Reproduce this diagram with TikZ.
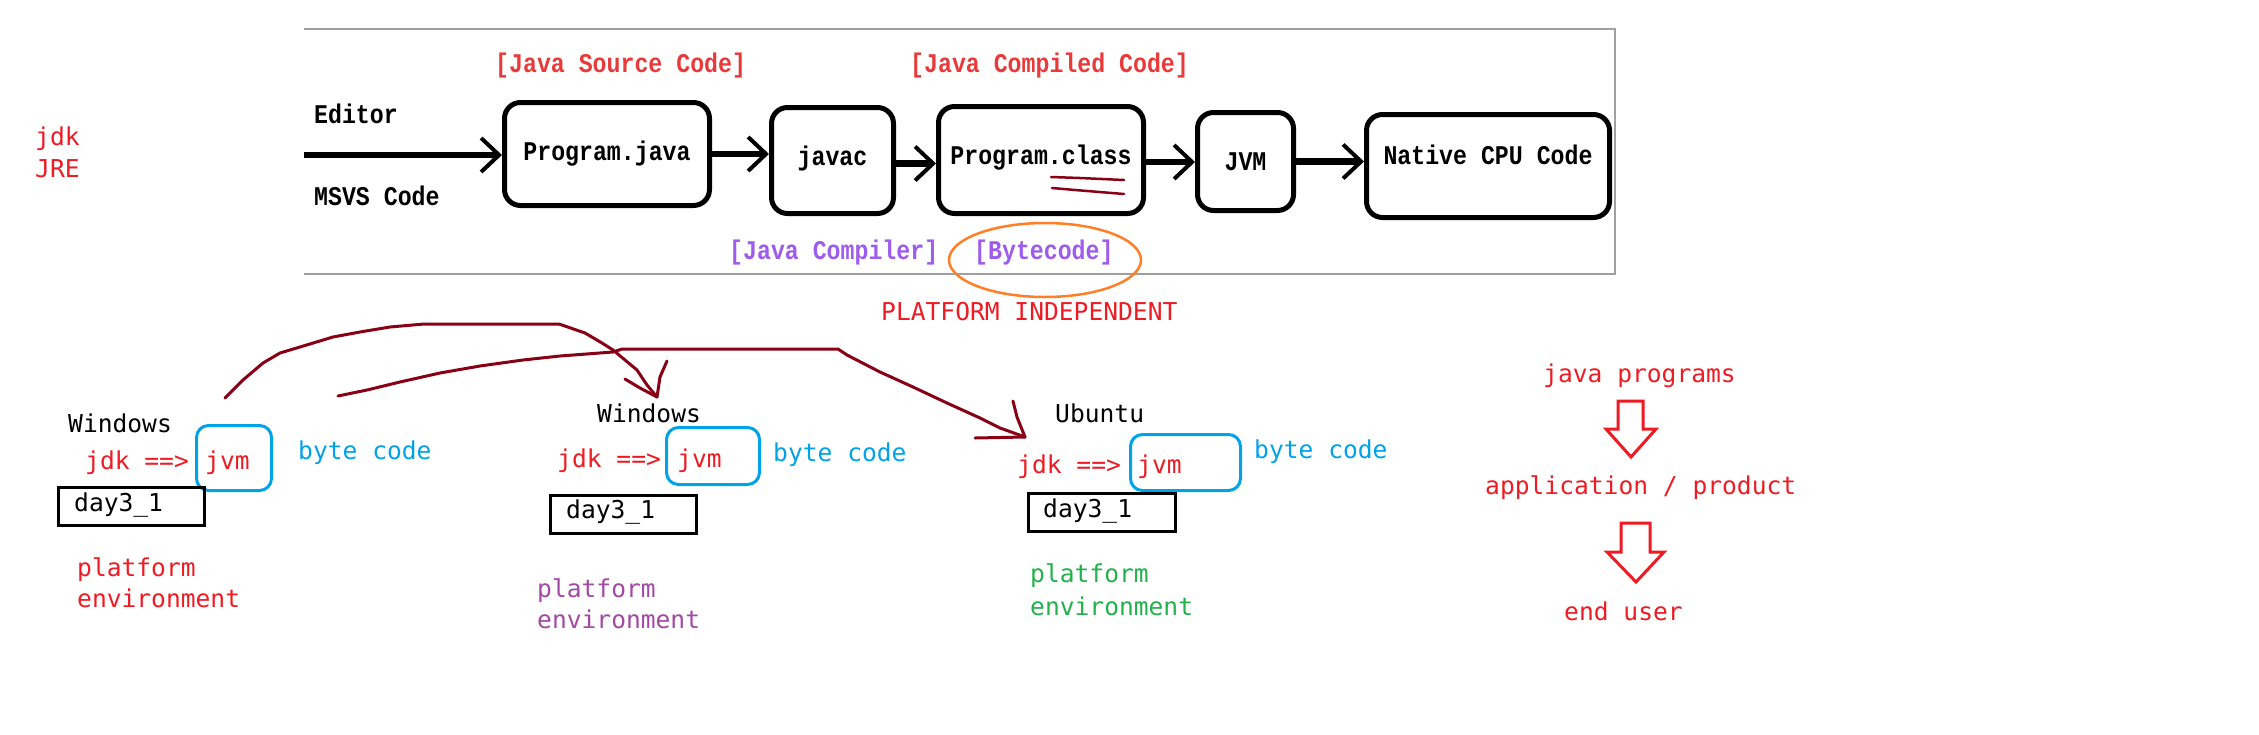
\documentclass[tikz,border=0pt]{standalone}
\usepackage{fontspec}
\usetikzlibrary{arrows.meta}
\newfontfamily\courf[FakeStretch=0.86]{Liberation Mono}
\newfontfamily\consf{DejaVu Sans Mono}
\definecolor{pred}{HTML}{ED1C24}
\definecolor{pblue}{HTML}{00A2E8}
\definecolor{ppurple}{HTML}{A349A4}
\definecolor{pgreen}{HTML}{22B14C}
\definecolor{pdark}{HTML}{880015}
\definecolor{porange}{HTML}{FF7F27}
\definecolor{tred}{HTML}{E83A3A}
\definecolor{tpurple}{HTML}{9D5CEB}
\definecolor{frame}{HTML}{A0A0A0}
\begin{document}
\begin{tikzpicture}[x=1pt,y=-1pt,
  bbox/.style={draw, line width=5pt, rounded corners=16pt, inner sep=0pt,
    font=\courf\bfseries\fontsize{27}{30}\selectfont},
  ttxt/.style={inner sep=0pt, anchor=base west, font=\courf\bfseries\fontsize{27}{30}\selectfont},
  ptxt/.style={inner sep=0pt, anchor=base west, font=\consf\fontsize{24.6}{30}\selectfont},
  flow/.style={line width=6.5pt, -{Straight Barb[length=18pt,width=34pt,line width=4pt]}},
  jvmbox/.style={draw=pblue, line width=3pt, rounded corners=12pt, inner sep=0pt},
  dbox/.style={draw=black, line width=3pt, inner sep=0pt},
  hand/.style={draw=pdark, line width=3pt, line join=round, line cap=round},
  hollow/.style={draw=pred, line width=3pt, line join=miter}]
\useasboundingbox (0,0) rectangle (2259,734);
\fill[white] (0,0) rectangle (2259,734);

% screenshot frame
\draw[frame, line width=1.5pt] (304,29) -- (1615,29) -- (1615,274) -- (304,274);

% top boxes
\node[bbox, minimum width=205, minimum height=103] (pj) at (607,154) {Program.java};
\node[bbox, minimum width=122, minimum height=106, text depth=9pt] (jc) at (832.5,160.5) {javac};
\node[bbox, minimum width=205, minimum height=107, text depth=10pt] (pc) at (1041,160) {Program.class};
\node[bbox, minimum width=96, minimum height=98] (jv) at (1245.5,161.5) {JVM};
\node[bbox, minimum width=243, minimum height=103, text depth=22pt] (nc) at (1488,166) {Native CPU Code};

\coordinate (edstart) at (304,155);
\draw[flow] (edstart) -- (edstart -| pj.west);
\draw[flow] (pj.east) -- (pj.east -| jc.west);
\draw[flow] ([yshift=-3pt]jc.east) -- ([yshift=-3pt]jc.east -| pc.west);
\draw[flow] ([yshift=-2pt]pc.east) -- ([yshift=-2pt]pc.east -| jv.west);
\draw[flow] (jv.east) -- (jv.east -| nc.west);

\node[ttxt] (editor) at (314,123) {Editor};
\node[ttxt] (msvs) at (314,205) {MSVS Code};
\node[ttxt, text=tred] (jsc) at (495,72) {[Java Source Code]};
\node[ttxt, text=tred] (jcc) at (910,72) {[Java Compiled Code]};
\node[ttxt, text=tpurple] (jcomp) at (729,259) {[Java Compiler]};
\node[ttxt, text=tpurple] (bytec) at (974,259) {[Bytecode]};
\draw[porange, line width=2.5pt] (1045,260) ellipse [x radius=96, y radius=37];

% underline strokes
\draw[hand, line width=2.5pt] (1051,177) -- (1080,178) -- (1124,180);
\draw[hand, line width=2.5pt] (1052,188) -- (1075,190) -- (1124,194);

\node[ptxt, text=pred] (pi) at (881,320) {PLATFORM INDEPENDENT};
\node[ptxt, text=pred] (jdk0) at (35,145) {jdk};
\node[ptxt, text=pred] (jre0) at (35,177) {JRE};

% platform A
\node[ptxt] (winA) at (68,432) {Windows};
\node[ptxt, text=pred] (jdkA) at (85,469) {jdk ==>};
\node[jvmbox, minimum width=75, minimum height=65] (jvmA) at (234,458) {};
\node[ptxt, text=pred] (jvmtA) at (205,469) {jvm};
\node[ptxt, text=pblue] (bcA) at (298,459) {byte code};
\node[dbox, minimum width=146, minimum height=38] (dA) at (131.5,506.5) {};
\node[ptxt] (dtA) at (74,511) {day3\_1};
\node[ptxt, text=pred] (plA) at (77,576) {platform};
\node[ptxt, text=pred] (enA) at (77,607) {environment};

% platform B
\node[ptxt] (winB) at (597,422) {Windows};
\node[ptxt, text=pred] (jdkB) at (557,467) {jdk ==>};
\node[jvmbox, minimum width=93, minimum height=57] (jvmB) at (713,456) {};
\node[ptxt, text=pred] (jvmtB) at (677,467) {jvm};
\node[ptxt, text=pblue] (bcB) at (773,461) {byte code};
\node[dbox, minimum width=146, minimum height=38] (dB) at (623.5,514.5) {};
\node[ptxt] (dtB) at (566,518) {day3\_1};
\node[ptxt, text=ppurple] (plB) at (537,597) {platform};
\node[ptxt, text=ppurple] (enB) at (537,628) {environment};

% platform C
\node[ptxt] (ubC) at (1055,422) {Ubuntu};
\node[ptxt, text=pred] (jdkC) at (1017,473) {jdk ==>};
\node[jvmbox, minimum width=110, minimum height=56] (jvmC) at (1185.5,462.5) {};
\node[ptxt, text=pred] (jvmtC) at (1137,473) {jvm};
\node[ptxt, text=pblue] (bcC) at (1254,458) {byte code};
\node[dbox, minimum width=147, minimum height=38] (dC) at (1102,512.5) {};
\node[ptxt] (dtC) at (1043,517) {day3\_1};
\node[ptxt, text=pgreen] (plC) at (1030,582) {platform};
\node[ptxt, text=pgreen] (enC) at (1030,615) {environment};

% hand-drawn arrows
\coordinate (s1) at (225,398);
\coordinate (e1) at (657,397);
\draw[hand] (s1) -- (243,380) -- (263,363) -- (280,353) -- (300,347) -- (333,337) -- (360,332)
  -- (390,327) -- (424,324) -- (559,324) -- (585,333) -- (602,343) -- (613,350) -- (625,360) -- (637,370) -- (647,385) -- (e1);
\draw[hand] (625,379) -- (640,388) -- (e1);
\draw[hand] (667,361) -- (660,377) -- (e1);

\coordinate (s2) at (338,396);
\coordinate (e2) at (1025,437);
\draw[hand] (s2) -- (367,390) -- (400,382) -- (440,373) -- (480,366) -- (523,360) -- (560,356)
  -- (613,352) -- (622,349) -- (838,349) -- (847,355) -- (880,372) -- (913,387) -- (947,403)
  -- (980,418) -- (1000,428) -- (e2);
\draw[hand] (975,438) -- (e2);
\draw[hand] (1013,401) -- (1017,417) -- (e2);

% right column
\node[ptxt, text=pred] (jp) at (1543,382) {java programs};
\node[ptxt, text=pred] (ap) at (1485,494) {application / product};
\node[ptxt, text=pred] (eu) at (1564,620) {end user};
\draw[hollow] (1618,401) -- (1643,401) -- (1643,429) -- (1656,429) -- (1631,457) -- (1606,429) -- (1618,429) -- cycle;
\draw[hollow] (1621,523) -- (1650,523) -- (1650,552) -- (1664,552) -- (1636,582) -- (1607,552) -- (1621,552) -- cycle;
\end{tikzpicture}
\end{document}
